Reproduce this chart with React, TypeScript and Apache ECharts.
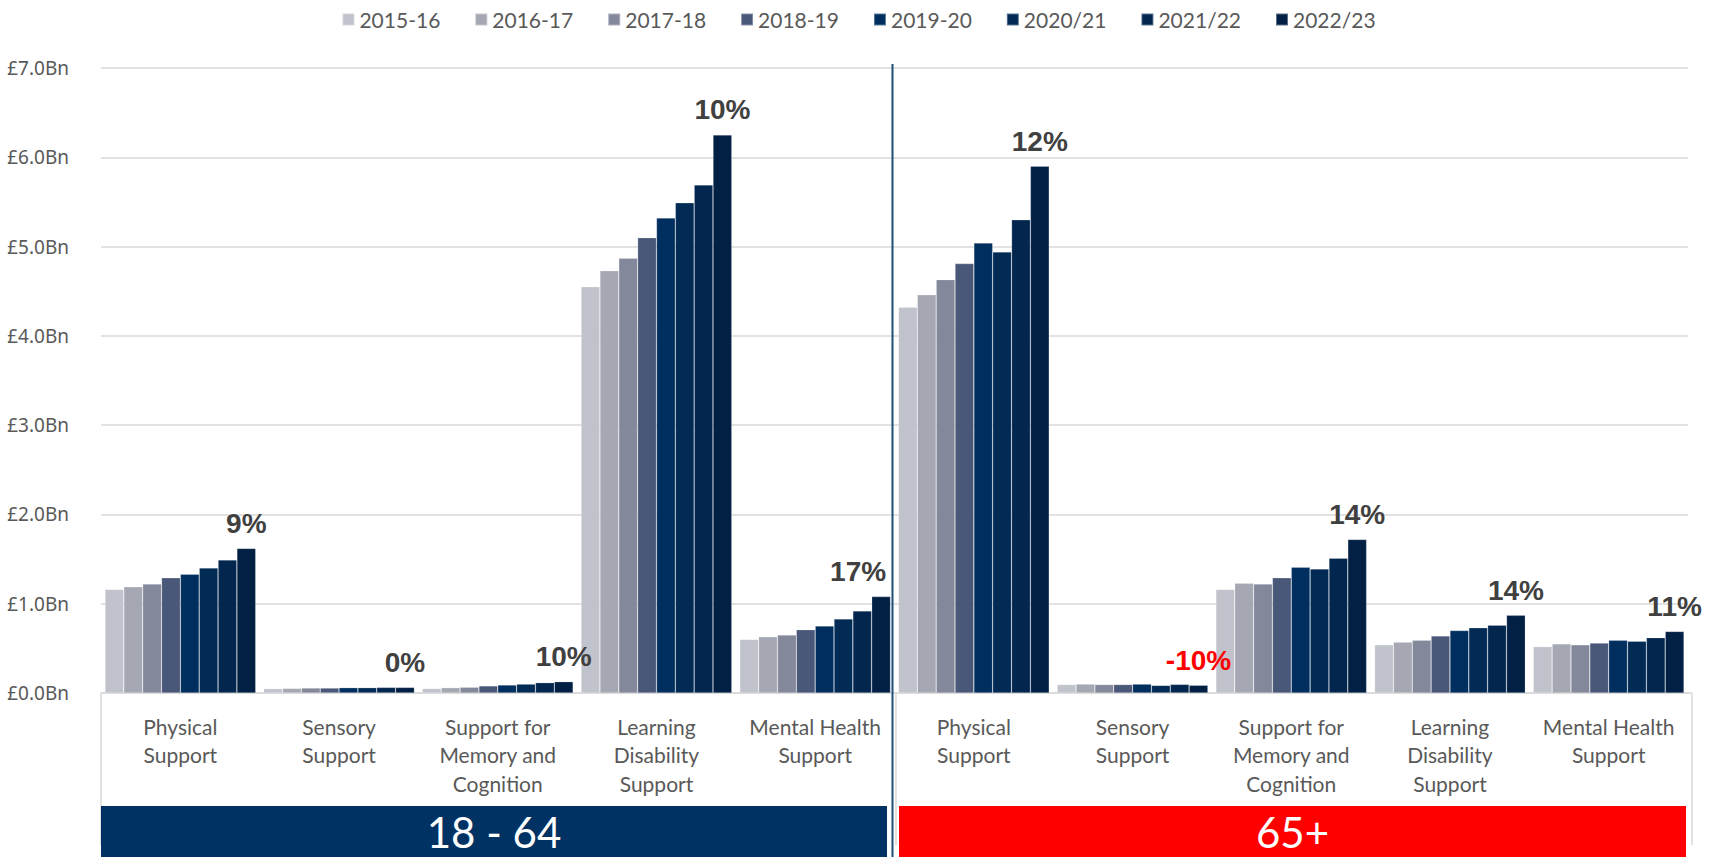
import React, { useEffect, useRef } from "react";
import * as echarts from "echarts";

const categories = [
  "Physical\nSupport",
  "Sensory\nSupport",
  "Support for\nMemory and\nCognition",
  "Learning\nDisability\nSupport",
  "Mental Health\nSupport",
  "Physical\nSupport",
  "Sensory\nSupport",
  "Support for\nMemory and\nCognition",
  "Learning\nDisability\nSupport",
  "Mental Health\nSupport",
];

const years = ["2015-16", "2016-17", "2017-18", "2018-19", "2019-20", "2020/21", "2021/22", "2022/23"];

const v2015 = [1.16, 0.049, 0.05, 4.55, 0.6, 4.32, 0.095, 1.16, 0.54, 0.52];
const v2016 = [1.19, 0.052, 0.06, 4.73, 0.63, 4.46, 0.1, 1.23, 0.57, 0.55];
const v2017 = [1.22, 0.056, 0.065, 4.87, 0.65, 4.63, 0.095, 1.22, 0.59, 0.54];
const v2018 = [1.29, 0.056, 0.08, 5.1, 0.71, 4.81, 0.095, 1.29, 0.64, 0.56];
const v2019 = [1.33, 0.06, 0.09, 5.32, 0.75, 5.04, 0.1, 1.41, 0.7, 0.59];
const v2020 = [1.4, 0.06, 0.1, 5.49, 0.83, 4.94, 0.085, 1.39, 0.73, 0.58];
const v2021 = [1.49, 0.063, 0.116, 5.69, 0.92, 5.3, 0.097, 1.51, 0.76, 0.62];
const v2022 = [1.62, 0.063, 0.127, 6.25, 1.08, 5.9, 0.087, 1.72, 0.87, 0.69];

const seriesValues = [v2015, v2016, v2017, v2018, v2019, v2020, v2021, v2022];

const changeLabels = ["9%", "0%", "10%", "10%", "17%", "12%", "-10%", "14%", "14%", "11%"];

const groupLabels = ["18 - 64", "65+"];

const colors = ["#C0C3CC", "#A5A8B3", "#83889B", "#495778", "#002F5F", "#012A55", "#02264E", "#021F44"];

const W = 1717;
const H = 857;
const GL = 101;
const GR = 1688;
const GT = 68;
const GB = 693;

export default function App() {
  const ref = useRef<HTMLDivElement>(null);
  useEffect(() => {
    if (!ref.current) return;
    const chart = echarts.init(ref.current, null, { renderer: "svg" });
    const mid = GL + (GR - GL) / 2;
    const series = seriesValues.map((vals, i) => ({
      name: years[i],
      type: "bar",
      barGap: "0%",
      barCategoryGap: "5%",
      itemStyle: { color: colors[i], borderColor: "rgba(255,255,255,0.35)", borderWidth: 0.6 },
      data:
        i === seriesValues.length - 1
          ? vals.map((v, k) => {
              const neg = changeLabels[k].startsWith("-");
              const lab: any = {
                show: true,
                position: "top",
                distance: 11,
                formatter: changeLabels[k],
                color: neg ? "#FF0000" : "#404040",
                fontFamily: "Liberation Sans, Arial, sans-serif",
                fontWeight: "bold",
                fontSize: 28,
              };
              if (k === 4) lab.offset = [-23, 0];
              return { value: v, label: lab };
            })
          : vals,
    }));
    chart.setOption({
      animation: false,
      backgroundColor: "#ffffff",
      legend: {
        top: 4,
        left: "center",
        itemWidth: 12,
        itemHeight: 12,
        itemGap: 34,
        icon: "rect",
        textStyle: { fontFamily: "Lato", fontSize: 21, color: "#595959" },
        data: years,
      },
      grid: { left: GL, right: W - GR, top: GT, bottom: H - GB, containLabel: false },
      xAxis: {
        type: "category",
        data: categories,
        axisLine: { show: true, lineStyle: { color: "#D9D9D9", width: 1.5 } },
        axisTick: { show: false },
        axisLabel: {
          interval: 0,
          margin: 19,
          fontFamily: "Lato",
          fontSize: 21,
          lineHeight: 28.5,
          color: "#595959",
        },
      },
      yAxis: {
        type: "value",
        min: 0,
        max: 7,
        interval: 1,
        axisLine: { show: false },
        axisTick: { show: false },
        splitLine: { lineStyle: { color: "#D9D9D9", width: 1.5 } },
        axisLabel: {
          margin: 32,
          fontFamily: "Noto Sans",
          fontSize: 19,
          color: "#595959",
          formatter: (v: number) => "£" + v.toFixed(1) + "Bn",
        },
      },
      series,
      graphic: [
        { type: "line", z: 100, shape: { x1: GL, y1: GB, x2: GL, y2: 845 }, style: { stroke: "#D9D9D9", lineWidth: 1.5 } },
        { type: "line", z: 100, shape: { x1: 896, y1: GB, x2: 896, y2: 845 }, style: { stroke: "#D9D9D9", lineWidth: 1.5 } },
        { type: "line", z: 100, shape: { x1: 1692, y1: GB, x2: 1692, y2: 845 }, style: { stroke: "#D9D9D9", lineWidth: 1.5 } },
        { type: "line", z: 100, shape: { x1: GR, y1: GB, x2: 1692, y2: GB }, style: { stroke: "#D9D9D9", lineWidth: 1.5 } },
        { type: "rect", z: 101, shape: { x: GL, y: 806, width: 887 - GL, height: H - 806 }, style: { fill: "#003263" } },
        { type: "rect", z: 101, shape: { x: 899, y: 806, width: GR - 2 - 899, height: H - 806 }, style: { fill: "#FF0000" } },
        {
          type: "text",
          z: 102,
          x: (GL + 887) / 2,
          y: 832,
          style: { text: groupLabels[0], fill: "#ffffff", fontFamily: "Lato", fontSize: 42, align: "center", verticalAlign: "middle" },
        },
        {
          type: "text",
          z: 102,
          x: (899 + GR - 2) / 2,
          y: 832,
          style: { text: groupLabels[1], fill: "#ffffff", fontFamily: "Lato", fontSize: 42, align: "center", verticalAlign: "middle" },
        },
        { type: "line", z: 103, shape: { x1: mid - 2, y1: 64, x2: mid - 2, y2: H }, style: { stroke: "#1F4E79", lineWidth: 2 } },
      ],
    });
    return () => chart.dispose();
  }, []);
  return <div ref={ref} style={{ position: "fixed", left: 0, top: 0, width: W, height: H }} />;
}
